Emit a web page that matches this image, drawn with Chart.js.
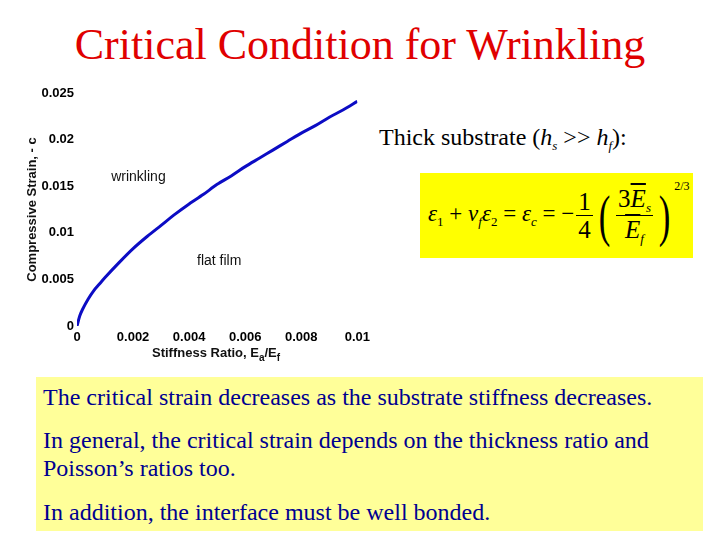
<!DOCTYPE html>
<html>
<head>
<meta charset="utf-8">
<script src="https://cdn.jsdelivr.net/npm/chart.js@4/dist/chart.umd.min.js"></script>
<style>
  body { margin: 0; width: 720px; height: 540px; background: #fff; position: relative; overflow: hidden; font-family: "Liberation Serif", "Times New Roman", serif; }
  #title { position: absolute; left: 0; top: 17px; width: 720px; text-align: center; color: #e00000; font-size: 44px; line-height: 56px; }
  #chartBox { position: absolute; left: 20px; top: 80px; width: 354px; height: 292px; }
  #thick { position: absolute; left: 379px; top: 124px; font-size: 24px; color: #000; }
  #eq { position: absolute; left: 420px; top: 173px; width: 273px; height: 85px; background: #ffff00; font-size: 23px; }
  #eq .row { position: absolute; left: 8px; top: 0; height: 85px; display: flex; align-items: center; white-space: nowrap; }
  .frac { display: inline-flex; flex-direction: column; align-items: center; vertical-align: middle; margin: 0 2px; font-size: 25px; }
  .frac .num { border-bottom: 1.5px solid #000; padding: 0 2px; line-height: 1.1; }
  .frac .den { line-height: 1.1; }
  .paren { font-size: 58px; display: inline-block; transform: scaleX(0.6); line-height: 1; }
  .ol { text-decoration: overline; font-style: italic; }
  sub { font-size: 13px; vertical-align: -5px; }
  #notes { position: absolute; left: 36px; top: 377px; width: 667px; height: 154px; background: #ffff99; color: #000090; font-size: 24px; }
  #notes p { position: absolute; left: 7px; margin: 0; line-height: 28px; white-space: nowrap; }
</style>
</head>
<body>
<div id="title">Critical Condition for Wrinkling</div>
<div id="chartBox"><canvas id="chart"></canvas></div>
<div id="thick">Thick substrate (<i>h<sub>s</sub></i> &gt;&gt; <i>h<sub>f</sub></i>):</div>
<div id="eq">
  <div class="row">
    <span><i>ε</i><sub>1</sub> + <i>ν</i><sub><i>f</i></sub><i>ε</i><sub>2</sub> = <i>ε</i><sub><i>c</i></sub> = −</span>
    <span class="frac"><span class="num">1</span><span class="den">4</span></span>
    <span class="paren">(</span>
    <span class="frac"><span class="num">3<span class="ol">E</span><sub><i>s</i></sub></span><span class="den"><span class="ol">E</span><sub><i>f</i></sub></span></span>
    <span class="paren">)</span>
    <span style="font-size:12px; align-self:flex-start; margin-top:6px;">2/3</span>
  </div>
</div>
<div id="notes">
  <p style="top:6px">The critical strain decreases as the substrate stiffness decreases.</p>
  <p style="top:49px">In general, the critical strain depends on the thickness ratio and</p>
  <p style="top:77px">Poisson’s ratios too.</p>
  <p style="top:121px">In addition, the interface must be well bonded.</p>
</div>
<script>
// stiffness ratio Es/Ef and critical compressive strain
const stiffnessRatio = [0, 0.0001, 0.0002, 0.0004, 0.0006, 0.0008, 0.001, 0.0015, 0.002, 0.0025, 0.003, 0.0035, 0.004, 0.0045, 0.005, 0.0055, 0.006, 0.0065, 0.007, 0.0075, 0.008, 0.0085, 0.009, 0.0095, 0.01];
const criticalStrain = [0, 0.0011, 0.0018, 0.0029, 0.0038, 0.0045, 0.0052, 0.0068, 0.0083, 0.0096, 0.0108, 0.0120, 0.0131, 0.0141, 0.0152, 0.0161, 0.0171, 0.0180, 0.0189, 0.0198, 0.0207, 0.0215, 0.0224, 0.0232, 0.0241];
const xTicks = [0, 0.002, 0.004, 0.006, 0.008, 0.01];
const yTicks = [0, 0.005, 0.01, 0.015, 0.02, 0.025];
const regionLabels = [
    { text: 'wrinkling', x: 0.00122, y: 0.016 },
    { text: 'flat film', x: 0.00428, y: 0.0070 }
];

const sans = '"Liberation Sans", Arial, sans-serif';
const tickFont = { family: sans, size: 13, weight: 'bold' };

const extras = {
    id: 'extras',
    afterDraw(chart) {
        const ctx = chart.ctx;
        const xs = chart.scales.x, ys = chart.scales.y;
        ctx.save();
        ctx.fillStyle = '#111';
        ctx.font = '14px ' + sans;
        ctx.textBaseline = 'middle';
        regionLabels.forEach(l => ctx.fillText(l.text, xs.getPixelForValue(l.x), ys.getPixelForValue(l.y)));

        // x axis title with subscripts
        ctx.textBaseline = 'alphabetic';
        const base = chart.chartArea.bottom + 31;
        let x = 132;
        const part = (t, dy, f) => { ctx.font = f; ctx.fillText(t, x, base + dy); x += ctx.measureText(t).width; };
        part('Stiffness Ratio, E', 0, 'bold 13px ' + sans);
        part('a', 4, 'bold 10px ' + sans);
        part('/E', 0, 'bold 13px ' + sans);
        part('f', 4, 'bold 10px ' + sans);
        ctx.restore();
    }
};

new Chart(document.getElementById('chart'), {
    type: 'line',
    data: {
        datasets: [{
            data: stiffnessRatio.map((r, i) => ({ x: r, y: criticalStrain[i] })),
            borderColor: '#0c0cc4',
            borderWidth: 3,
            pointRadius: 0,
            tension: 0.3,
            fill: false
        }]
    },
    options: {
        responsive: true,
        maintainAspectRatio: false,
        animation: false,
        layout: { padding: { top: 13, right: 0 } },
        plugins: { legend: { display: false }, tooltip: { enabled: false } },
        scales: {
            x: {
                type: 'linear', min: 0, max: 0.01,
                grid: { display: false, drawTicks: false },
                border: { display: false },
                afterBuildTicks: s => { s.ticks = xTicks.map(v => ({ value: v })); },
                afterFit: s => { s.height = 46; },
                ticks: {
                    color: '#000', font: tickFont, padding: 4, maxRotation: 0,
                    callback: v => v === 0 ? '0' : String(+v.toFixed(3))
                }
            },
            y: {
                type: 'linear', min: 0, max: 0.025,
                grid: { display: false, drawTicks: false },
                border: { display: false },
                afterBuildTicks: s => { s.ticks = yTicks.map(v => ({ value: v })); },
                afterFit: s => { s.width = 57; },
                title: {
                    display: true, text: 'Compressive Strain, - c', color: '#111',
                    font: { family: sans, size: 13, weight: 'bold' },
                    padding: { top: 5, bottom: 0 }
                },
                ticks: {
                    color: '#000', font: tickFont, padding: 3,
                    callback: v => v === 0 ? '0' : String(+v.toFixed(3))
                }
            }
        }
    },
    plugins: [extras]
});
</script>
</body>
</html>
